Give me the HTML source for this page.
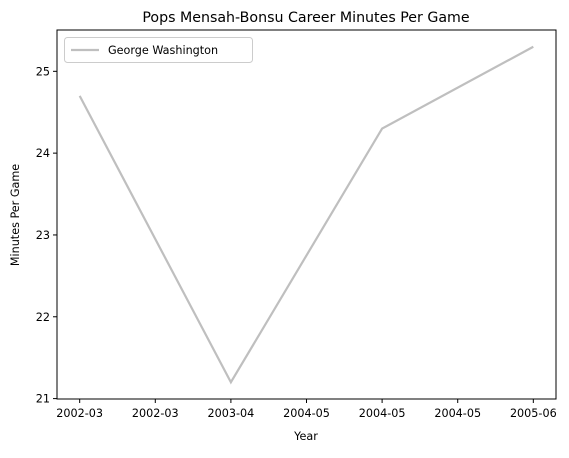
<!DOCTYPE html>
<html><head><meta charset="utf-8"><style>
body{margin:0;background:#fff;}
svg text{font-family:"DejaVu Sans","Liberation Sans",sans-serif;fill:#000;}
</style></head><body>
<svg id="chart" width="569" height="453" xmlns="http://www.w3.org/2000/svg">
<rect width="569" height="453" fill="#fff"/>
<text x="306" y="22" font-size="14.2" text-anchor="middle">Pops Mensah-Bonsu Career Minutes Per Game</text>
<g id="axes"></g>
<path id="series" fill="none" stroke="#bfbfbf" stroke-width="2.2"/>
<rect x="57" y="30" width="499" height="369" fill="none" stroke="#000" stroke-width="1"/>
<g>
<rect x="64.5" y="37.5" width="188" height="25" rx="3" fill="#fff" stroke="#ccc"/>
<line x1="71" y1="50" x2="99" y2="50" stroke="#bfbfbf" stroke-width="2.2"/>
<text x="108" y="54" font-size="11.2">George Washington</text>
</g>
<text x="306" y="440" font-size="11.2" text-anchor="middle">Year</text>
<text x="19" y="215" font-size="11.2" text-anchor="middle" transform="rotate(-90 19 215)">Minutes Per Game</text>
</svg>
<script>
const xValues=[0,1,2,3];
const minutes=[24.7,21.2,24.3,25.3];
const xTickPos=[0,0.5,1,1.5,2,2.5,3];
const xTickLabels=["2002-03","2002-03","2003-04","2004-05","2004-05","2004-05","2005-06"];
const yTicks=[21,22,23,24,25];
const L=57,R=556,T=30,B=399;
const xmin=-0.15,xmax=3.15,ymin=20.995,ymax=25.505;
const sx=v=>L+(v-xmin)/(xmax-xmin)*(R-L);
const sy=v=>B-(v-ymin)/(ymax-ymin)*(B-T);
const NS="http://www.w3.org/2000/svg";
const ax=document.getElementById('axes');
function mk(tag,attrs){const e=document.createElementNS(NS,tag);for(const k in attrs)e.setAttribute(k,attrs[k]);ax.appendChild(e);return e;}
xTickPos.forEach((v,i)=>{
  const t=mk('line',{x1:sx(v),x2:sx(v),y1:B,y2:B+4,stroke:'#000'});
  
  
  const l=mk('text',{x:sx(v),y:B+18,'font-size':11.2,'text-anchor':'middle'});
  l.textContent=xTickLabels[i];
  
  
});
yTicks.forEach(v=>{
  const t=mk('line',{x1:L-4,x2:L,y1:sy(v),y2:sy(v),stroke:'#000'});
  
  
  const l=mk('text',{x:L-7,y:sy(v)+4,'font-size':11.2,'text-anchor':'end'});
  l.textContent=v;
  
  
});
document.getElementById('series').setAttribute('d',xValues.map((x,i)=>(i?'L':'M')+sx(x)+','+sy(minutes[i])).join(' '));
</script>
</body></html>
